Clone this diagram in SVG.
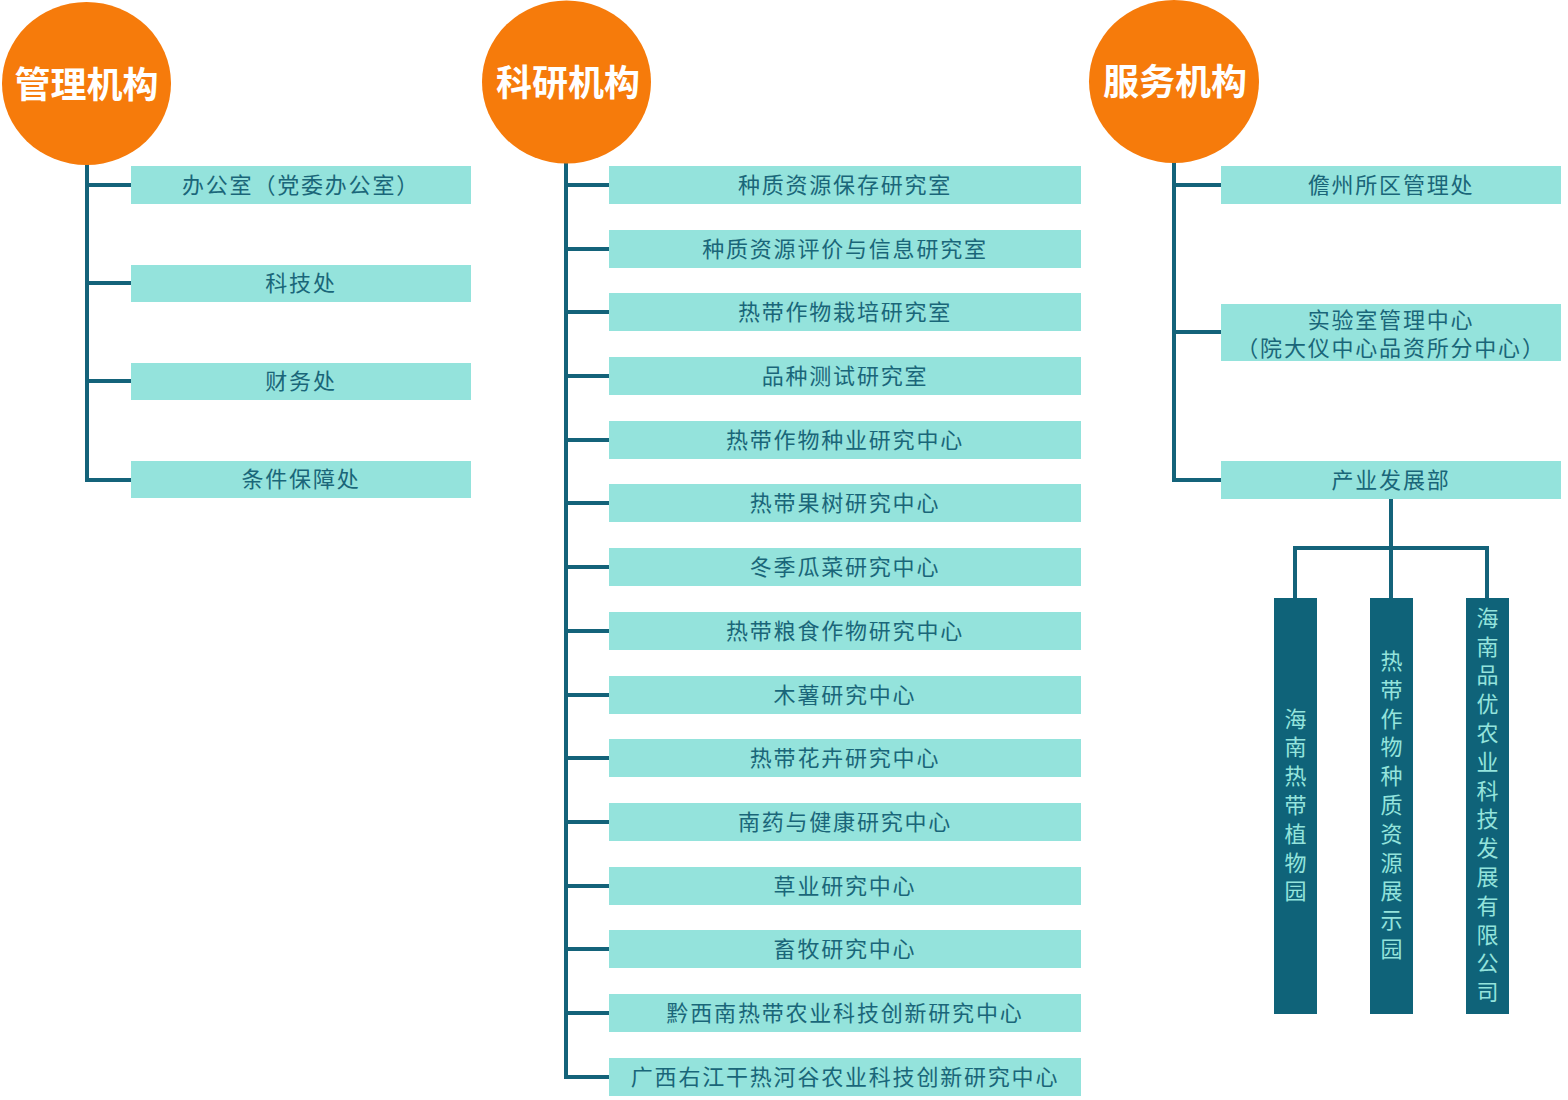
<svg xmlns="http://www.w3.org/2000/svg" width="1568" height="1100" viewBox="0 0 1568 1100">
<style>
.hd{fill:#f67b0b}
.ht{fill:#fff;font-family:"Noto Sans CJK SC","Noto Sans",sans-serif;font-size:36px;font-weight:bold;text-anchor:middle}
.bx{fill:#94e3dc}
.bt{fill:#1a6679;font-family:"Noto Sans CJK SC","Noto Sans",sans-serif;font-size:22px;text-anchor:middle;letter-spacing:1.8px}
.vb{fill:#0f6379}
.vt{fill:#94e3dc;font-family:"Noto Sans CJK SC","Noto Sans",sans-serif;font-size:22px;text-anchor:middle;writing-mode:vertical-rl;letter-spacing:6.8px}
.ln{fill:none;stroke:#14637a;stroke-width:4}
</style>
<rect width="1568" height="1100" fill="#fff"/>
<g id="connectors">
<path class="ln" d="M87,164 V480 H131 M87,185 H131 M87,283 H131 M87,381 H131"/>
<path class="ln" d="M566,163 V1077 H609 M566,185 H609 M566,249 H609 M566,312 H609 M566,376 H609 M566,440 H609 M566,503 H609 M566,567 H609 M566,631 H609 M566,695 H609 M566,758 H609 M566,822 H609 M566,886 H609 M566,949 H609 M566,1013 H609"/>
<path class="ln" d="M1174,162 V480 H1221 M1174,185 H1221 M1174,332 H1221"/>
<path class="ln" d="M1391,499 V598 M1295,598 V548 H1487 V598"/>
</g>
<g id="n-guanli"><ellipse class="hd" cx="86.5" cy="83.5" rx="84.5" ry="81.5"/><text class="ht" x="86.5" y="98">管理机构</text></g>
<g id="n-keyan"><ellipse class="hd" cx="566.5" cy="82" rx="84.5" ry="81.5"/><text class="ht" x="568" y="96">科研机构</text></g>
<g id="n-fuwu"><ellipse class="hd" cx="1174" cy="81.5" rx="85" ry="81.5"/><text class="ht" x="1175" y="95">服务机构</text></g>

<g id="n-bgs"><rect class="bx" x="131" y="166" width="340" height="38"/><text class="bt" x="301" y="193">办公室（党委办公室）</text></g>
<g id="n-kjc"><rect class="bx" x="131" y="265" width="340" height="37"/><text class="bt" x="301" y="291">科技处</text></g>
<g id="n-cwc"><rect class="bx" x="131" y="363" width="340" height="37"/><text class="bt" x="301" y="389">财务处</text></g>
<g id="n-tjbzc"><rect class="bx" x="131" y="461" width="340" height="37"/><text class="bt" x="301" y="487">条件保障处</text></g>

<g id="n-k1"><rect class="bx" x="609" y="166" width="472" height="38"/><text class="bt" x="845" y="193">种质资源保存研究室</text></g>
<g id="n-k2"><rect class="bx" x="609" y="230" width="472" height="38"/><text class="bt" x="845" y="257">种质资源评价与信息研究室</text></g>
<g id="n-k3"><rect class="bx" x="609" y="293" width="472" height="38"/><text class="bt" x="845" y="320">热带作物栽培研究室</text></g>
<g id="n-k4"><rect class="bx" x="609" y="357" width="472" height="38"/><text class="bt" x="845" y="384">品种测试研究室</text></g>
<g id="n-k5"><rect class="bx" x="609" y="421" width="472" height="38"/><text class="bt" x="845" y="448">热带作物种业研究中心</text></g>
<g id="n-k6"><rect class="bx" x="609" y="484" width="472" height="38"/><text class="bt" x="845" y="511">热带果树研究中心</text></g>
<g id="n-k7"><rect class="bx" x="609" y="548" width="472" height="38"/><text class="bt" x="845" y="575">冬季瓜菜研究中心</text></g>
<g id="n-k8"><rect class="bx" x="609" y="612" width="472" height="38"/><text class="bt" x="845" y="639">热带粮食作物研究中心</text></g>
<g id="n-k9"><rect class="bx" x="609" y="676" width="472" height="38"/><text class="bt" x="845" y="703">木薯研究中心</text></g>
<g id="n-k10"><rect class="bx" x="609" y="739" width="472" height="38"/><text class="bt" x="845" y="766">热带花卉研究中心</text></g>
<g id="n-k11"><rect class="bx" x="609" y="803" width="472" height="38"/><text class="bt" x="845" y="830">南药与健康研究中心</text></g>
<g id="n-k12"><rect class="bx" x="609" y="867" width="472" height="38"/><text class="bt" x="845" y="894">草业研究中心</text></g>
<g id="n-k13"><rect class="bx" x="609" y="930" width="472" height="38"/><text class="bt" x="845" y="957">畜牧研究中心</text></g>
<g id="n-k14"><rect class="bx" x="609" y="994" width="472" height="38"/><text class="bt" x="845" y="1021">黔西南热带农业科技创新研究中心</text></g>
<g id="n-k15"><rect class="bx" x="609" y="1058" width="472" height="38"/><text class="bt" x="845" y="1085">广西右江干热河谷农业科技创新研究中心</text></g>

<g id="n-dz"><rect class="bx" x="1221" y="166" width="340" height="38"/><text class="bt" x="1391" y="193">儋州所区管理处</text></g>
<g id="n-sys"><rect class="bx" x="1221" y="304" width="340" height="57"/><text class="bt" x="1391" y="328">实验室管理中心</text><text class="bt" x="1391" y="356">（院大仪中心品资所分中心）</text></g>
<g id="n-cy"><rect class="bx" x="1221" y="461" width="340" height="38"/><text class="bt" x="1391" y="488">产业发展部</text></g>

<g id="n-v1"><rect class="vb" x="1274" y="598" width="43" height="416"/><text class="vt" x="1295.5" y="808">海南热带植物园</text></g>
<g id="n-v2"><rect class="vb" x="1370" y="598" width="43" height="416"/><text class="vt" x="1391.5" y="808">热带作物种质资源展示园</text></g>
<g id="n-v3"><rect class="vb" x="1466" y="598" width="43" height="416"/><text class="vt" x="1487.5" y="808">海南品优农业科技发展有限公司</text></g>
</svg>
